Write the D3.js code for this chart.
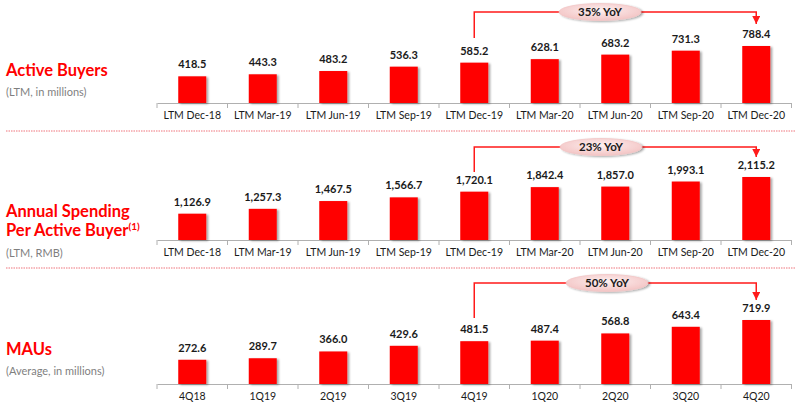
<!DOCTYPE html>
<html><head><meta charset="utf-8">
<script src="https://cdn.jsdelivr.net/npm/d3@7"></script>
<style>html,body{margin:0;padding:0;background:#fff;}svg{display:block;}</style>
</head><body>
<svg id="chart" width="800" height="408"></svg>
<script>
const ltmCategories = ["LTM Dec-18","LTM Mar-19","LTM Jun-19","LTM Sep-19","LTM Dec-19","LTM Mar-20","LTM Jun-20","LTM Sep-20","LTM Dec-20"];
const quarterCategories = ["4Q18","1Q19","2Q19","3Q19","4Q19","1Q20","2Q20","3Q20","4Q20"];
const activeBuyers = [418.5,443.3,483.2,536.3,585.2,628.1,683.2,731.3,788.4];
const annualSpending = [1126.9,1257.3,1467.5,1566.7,1720.1,1842.4,1857.0,1993.1,2115.2];
const maus = [272.6,289.7,366.0,429.6,481.5,487.4,568.8,643.4,719.9];
const yoyLabels = ["35% YoY","23% YoY","50% YoY"];

const panels = [
  {title:["Active Buyers"], sub:"(LTM, in millions)", cats:ltmCategories, vals:activeBuyers, yoy:yoyLabels[0],
   dmin:93, base:103, topPx:46, titleY:[76], subY:96, fmt:d3.format(",.1f"), annY:12, startY:38, arrowY:24, ellX:600},
  {title:["Annual Spending","Per Active Buyer"], sup:"(1)", sub:"(LTM, RMB)", cats:ltmCategories, vals:annualSpending, yoy:yoyLabels[1],
   dmin:418, base:240, topPx:177, titleY:[217,236], subY:257, fmt:d3.format(",.1f"), annY:147, startY:172, arrowY:157, ellX:601},
  {title:["MAUs"], sub:"(Average, in millions)", cats:quarterCategories, vals:maus, yoy:yoyLabels[2],
   dmin:0, base:384, topPx:320, titleY:[355], subY:375, fmt:d3.format(",.1f"), annY:283, startY:318, arrowY:300, ellX:607}
];

const svg = d3.select("#chart");
const defs = svg.append("defs");
const g1 = defs.append("radialGradient").attr("id","ellGrad").attr("cx","50%").attr("cy","40%").attr("r","60%");
g1.append("stop").attr("offset","0%").attr("stop-color","#fdf0f0");
g1.append("stop").attr("offset","100%").attr("stop-color","#f3c4c4");
const sh = defs.append("filter").attr("id","shadow").attr("x","-20%").attr("y","-20%").attr("width","150%").attr("height","150%");
sh.append("feGaussianBlur").attr("in","SourceAlpha").attr("stdDeviation","1");
sh.append("feOffset").attr("dx","2").attr("dy","1").attr("result","ob");
sh.append("feComponentTransfer").append("feFuncA").attr("type","linear").attr("slope","0.35");
const mg = sh.append("feMerge"); mg.append("feMergeNode"); mg.append("feMergeNode").attr("in","SourceGraphic");
defs.append("marker").attr("id","arr").attr("viewBox","0 0 10 10").attr("refX","10").attr("refY","5")
  .attr("markerWidth","8").attr("markerHeight","8").attr("markerUnits","userSpaceOnUse").attr("orient","auto")
  .append("path").attr("d","M0,0 L10,5 L0,10 Z").attr("fill","#ff1a1a");

// separators
[131, 268].forEach(y=>{
  svg.append("line").attr("x1",6).attr("x2",796).attr("y1",y).attr("y2",y)
    .attr("stroke","#f5a3a8").attr("stroke-width",1.6).attr("stroke-dasharray","1.5,1");
});

const font = "Lato, 'Open Sans', sans-serif";

panels.forEach(p=>{
  const x = d3.scaleBand().domain(p.cats).range([157,791.5]).padding(0);
  const y = d3.scaleLinear().domain([p.dmin, d3.max(p.vals)]).range([p.base, p.topPx]);
  const bw = 28;
  const g = svg.append("g");

  // title
  p.title.forEach((t,i)=>{
    const tx = g.append("text").attr("x",6).attr("y",p.titleY[i]).attr("font-family",font)
      .attr("font-weight","bold").attr("font-size",16.5).attr("fill","#ff0000").text(t);
    if (p.sup && i===p.title.length-1) {
      tx.append("tspan").attr("font-size",10).attr("dy",-6).text(p.sup);
    }
  });
  g.append("text").attr("x",6).attr("y",p.subY).attr("font-family",font).attr("font-size",11)
    .attr("fill","#7f7f7f").text(p.sub);

  // axis
  const axis = d3.axisBottom(x).tickSize(0).tickPadding(9);
  const ag = g.append("g").attr("transform",`translate(0,${p.base})`).call(axis);
  ag.select(".domain").attr("stroke","#b0b0b0").attr("stroke-width",1);
  ag.selectAll(".tick text").attr("font-family",font).attr("font-size",10.5).attr("fill","#1a1a1a");
  // category boundary ticks
  const bounds = p.cats.map(c=>x(c)).concat([x.range()[1]]);
  g.selectAll("line.bt").data(bounds).enter().append("line")
    .attr("x1",d=>d).attr("x2",d=>d).attr("y1",p.base).attr("y2",p.base+5)
    .attr("stroke","#b0b0b0").attr("stroke-width",1);

  // bars
  g.selectAll("rect.bar").data(p.vals).enter().append("rect")
    .attr("x",(d,i)=>x(p.cats[i]) + x.bandwidth()/2 - bw/2)
    .attr("y",d=>y(d)).attr("width",bw).attr("height",d=>p.base - y(d))
    .attr("fill","#ff0000").attr("filter","url(#shadow)");

  // value labels
  g.selectAll("text.val").data(p.vals).enter().append("text")
    .attr("x",(d,i)=>x(p.cats[i]) + x.bandwidth()/2)
    .attr("y",d=>y(d) - 8).attr("text-anchor","middle")
    .attr("font-family",font).attr("font-weight","bold").attr("font-size",11).attr("fill","#1a1a1a")
    .text(d=>p.fmt(d));

  // YoY annotation
  const xs = x(p.cats[4]) + x.bandwidth()/2;
  const xe = x(p.cats[8]) + x.bandwidth()/2;
  g.append("path").attr("d",`M${xs},${p.startY} V${p.annY} H${xe} V${p.arrowY}`)
    .attr("fill","none").attr("stroke","#ff1a1a").attr("stroke-width",1.5).attr("marker-end","url(#arr)");
  g.append("ellipse").attr("cx",p.ellX).attr("cy",p.annY).attr("rx",41).attr("ry",8.5)
    .attr("fill","url(#ellGrad)").attr("stroke","#f2c6c6").attr("stroke-width",0.8).attr("filter","url(#shadow)");
  g.append("text").attr("x",p.ellX).attr("y",p.annY+4).attr("text-anchor","middle")
    .attr("font-family",font).attr("font-weight","bold").attr("font-size",11.5).attr("fill","#1a1a1a").text(p.yoy);
});
</script>
</body></html>
